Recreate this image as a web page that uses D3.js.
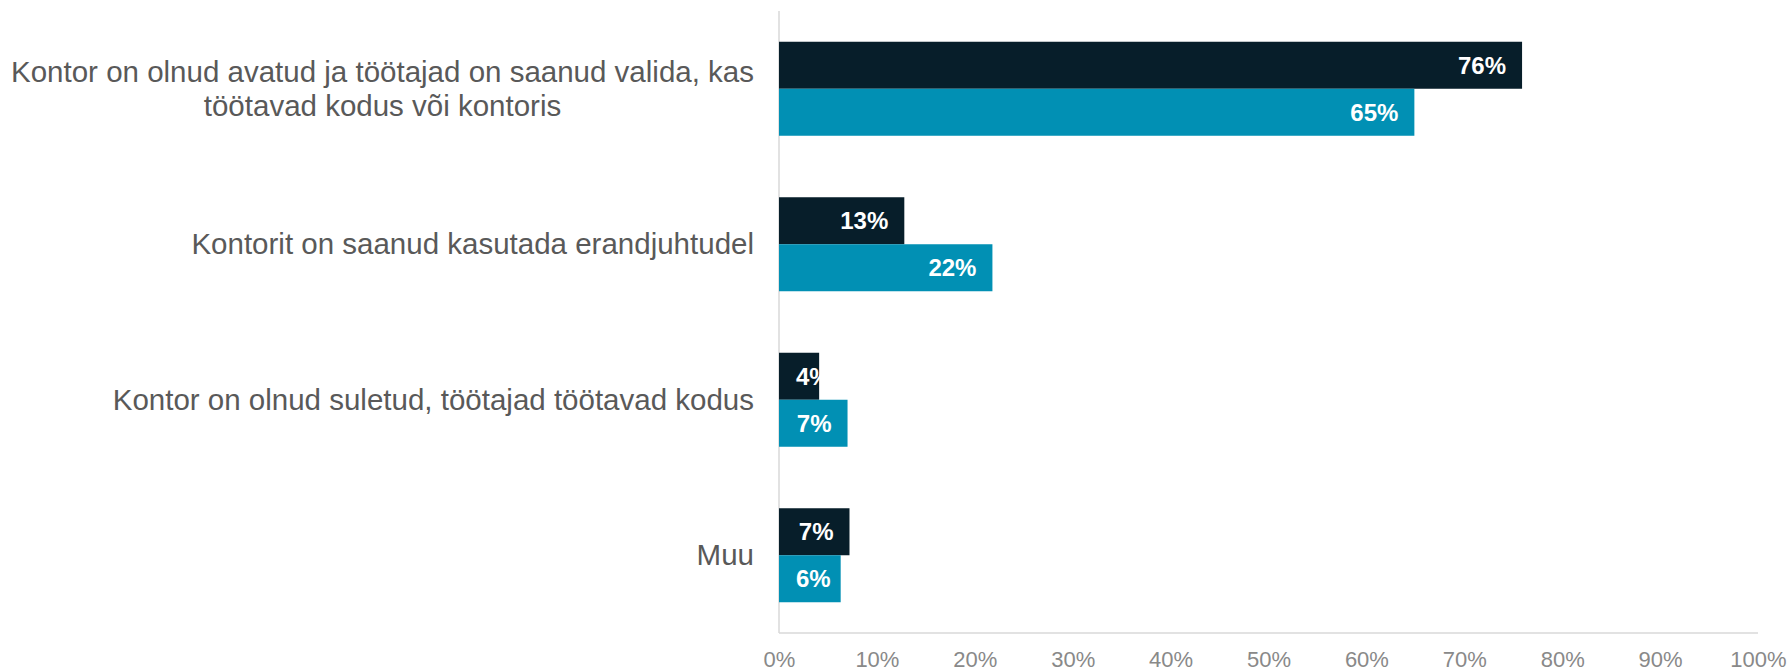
<!DOCTYPE html>
<html>
<head>
<meta charset="utf-8">
<script src="https://cdn.jsdelivr.net/npm/d3@7"></script>
<style>
  html, body { margin: 0; padding: 0; background: #ffffff; }
  svg { display: block; font-family: "Liberation Sans", Arial, sans-serif; }
</style>
</head>
<body>
<svg id="chart" width="1791" height="671"></svg>
<script>
// ---- data ----
const categories = [
  ["Kontor on olnud avatud ja töötajad on saanud valida, kas", "töötavad kodus või kontoris"],
  ["Kontorit on saanud kasutada erandjuhtudel"],
  ["Kontor on olnud suletud, töötajad töötavad kodus"],
  ["Muu"]
];
const seriesNames = ["Seeria 1", "Seeria 2"];
const series1 = [75.9, 12.8, 4.1, 7.2];
const series2 = [64.9, 21.8, 7.0, 6.3];
const tickValues = [0, 10, 20, 30, 40, 50, 60, 70, 80, 90, 100];
const colors = ["#071e2a", "#0190b4"];

// ---- layout ----
const svg = d3.select("#chart");
const plotLeft = 779, plotRight = 1758, plotTop = 11, plotBottom = 633;
const catKeys = categories.map((c, i) => i);

const x = d3.scaleLinear().domain([0, 100]).range([plotLeft, plotRight]);
const y = d3.scaleBand().domain(catKeys).range([plotTop, plotBottom])
  .paddingInner(0.3955).paddingOuter(0.3955 / 2);
const ySub = d3.scaleBand().domain(seriesNames).range([0, y.bandwidth()]).padding(0);

const values = [series1, series2];

// axis lines
svg.append("line").attr("x1", plotLeft).attr("x2", plotLeft).attr("y1", plotTop).attr("y2", plotBottom)
  .attr("stroke", "#d9d9d9").attr("stroke-width", 1.5);
svg.append("line").attr("x1", plotLeft).attr("x2", plotRight).attr("y1", plotBottom).attr("y2", plotBottom)
  .attr("stroke", "#d9d9d9").attr("stroke-width", 1.5);

// x axis tick labels via d3 axis
const xAxis = d3.axisBottom(x).tickValues(tickValues).tickFormat(d => d + "%").tickSize(0).tickPadding(0);
const gx = svg.append("g").attr("transform", `translate(0, ${plotBottom})`).call(xAxis);
gx.select(".domain").remove();
gx.selectAll("text")
  .attr("dy", null)
  .attr("y", 34)
  .attr("fill", "#898989")
  .style("font-size", "22px")
  .style("font-family", '"Liberation Sans", Arial, sans-serif');

// bars
seriesNames.forEach((s, si) => {
  const g = svg.append("g");
  g.selectAll("rect").data(values[si]).join("rect")
    .attr("x", x(0))
    .attr("y", (d, i) => y(i) + ySub(s))
    .attr("width", d => x(d) - x(0))
    .attr("height", ySub.bandwidth())
    .attr("fill", colors[si]);

  const lbl = svg.append("g");
  lbl.selectAll("text").data(values[si]).join("text")
    .text(d => Math.round(d) + "%")
    .attr("fill", "#ffffff")
    .style("font-size", "24px")
    .style("font-weight", "bold")
    .attr("y", (d, i) => y(i) + ySub(s) + ySub.bandwidth() / 2 + 8.5)
    .each(function (d) {
      const w = this.getComputedTextLength();
      let xr = x(d) - 16;
      if (xr - w < x(0) + 17) xr = x(0) + 17 + w;
      d3.select(this).attr("x", xr).attr("text-anchor", "end");
    });
});

// category labels (multi-line blocks are centred, block right-aligned)
const lineH = 34;
const labelRight = 754;
categories.forEach((lines, i) => {
  const cy = y(i) + y.bandwidth() / 2 + 10;
  const t = svg.append("text")
    .attr("text-anchor", "middle")
    .attr("fill", "#595959")
    .style("font-size", "29.5px");
  const spans = lines.map((ln, li) =>
    t.append("tspan")
      .attr("y", cy + (li - (lines.length - 1) / 2) * lineH)
      .text(ln));
  const maxW = d3.max(spans, sp => sp.node().getComputedTextLength());
  spans.forEach(sp => sp.attr("x", labelRight - maxW / 2));
});
</script>
</body>
</html>
